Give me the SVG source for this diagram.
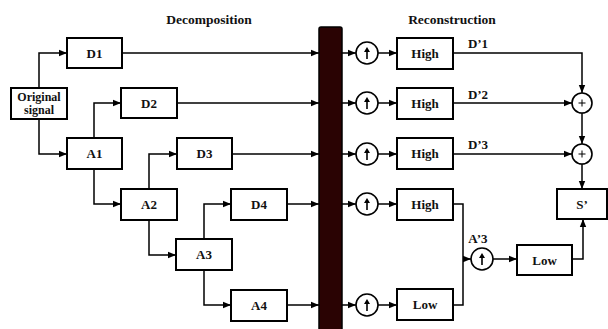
<svg xmlns="http://www.w3.org/2000/svg" width="608" height="329" viewBox="0 0 608 329">
<defs>
<marker id="ah" markerUnits="userSpaceOnUse" markerWidth="8" markerHeight="8" viewBox="0 0 8 8" refX="8" refY="4" orient="auto">
<path d="M0,0.8 L8,4 L0,7.2 Z" fill="#000"/>
</marker>
<g id="upa"><path d="M0,6 V-2" stroke="#000" stroke-width="1.6" fill="none"/><path d="M0,-6 L3,-1 L-3,-1 Z" fill="#000"/></g>
<g id="plus"><path d="M-3.5,0 H3.5 M0,-3.5 V3.5" stroke="#000" stroke-width="1"/></g>
</defs>
<style>
.box{fill:#fff;stroke:#000;stroke-width:2}
.c{fill:#fff;stroke:#000;stroke-width:1.6}
.t{font-family:"Liberation Serif","Times New Roman",serif;font-weight:bold;font-size:13px;text-anchor:middle;fill:#111}
.h{font-size:13.5px}
.s{font-size:12px}
.ln{fill:none;stroke:#000;stroke-width:1.5}
.ar{marker-end:url(#ah)}
</style>
<rect width="608" height="329" fill="#fff"/>
<text class="t h" x="209" y="24">Decomposition</text>
<text class="t h" x="452" y="24">Reconstruction</text>

<g id="bar"><rect x="319" y="27" width="23" height="310" rx="2" fill="#2a0303" stroke="#000" stroke-width="1.5"/></g>

<g id="connectors">
<path class="ln ar" d="M39,88 V53 H67"/>
<path class="ln ar" d="M39,119 V154 H67"/>
<path class="ln ar" d="M122,53 H319"/>
<path class="ln ar" d="M94,138 V103 H121"/>
<path class="ln ar" d="M177,103 H319"/>
<path class="ln ar" d="M94,169 V204 H121"/>
<path class="ln ar" d="M149,189 V154 H177"/>
<path class="ln ar" d="M232,154 H319"/>
<path class="ln ar" d="M149,220 V255 H176"/>
<path class="ln ar" d="M204,239 V204 H231"/>
<path class="ln ar" d="M287,204 H319"/>
<path class="ln ar" d="M204,270 V305 H231"/>
<path class="ln ar" d="M287,305 H319"/>
<path class="ln ar" d="M342,53 H356"/>
<path class="ln ar" d="M378,53 H397"/>
<path class="ln ar" d="M342,103 H356"/>
<path class="ln ar" d="M378,103 H397"/>
<path class="ln ar" d="M342,154 H356"/>
<path class="ln ar" d="M378,154 H397"/>
<path class="ln ar" d="M342,204 H356"/>
<path class="ln ar" d="M378,204 H397"/>
<path class="ln ar" d="M342,305 H356"/>
<path class="ln ar" d="M378,305 H397"/>
<path class="ln ar" d="M453,53 H582 V93"/>
<path class="ln ar" d="M453,103 H572"/>
<path class="ln ar" d="M582,113 V144"/>
<path class="ln ar" d="M453,154 H572"/>
<path class="ln ar" d="M582,164 V189"/>
<path class="ln" d="M453,204 H463 V305 H453"/>
<path class="ln ar" d="M463,259 H471"/>
<path class="ln ar" d="M493,259 H517"/>
<path class="ln ar" d="M572,259 H583 V219"/>
</g>

<g id="original"><rect class="box" x="11" y="88" width="56" height="31"/><text class="t s" x="39" y="101">Original</text><text class="t s" x="39" y="114">signal</text></g>
<g id="D1"><rect class="box" x="67" y="38" width="55" height="30"/><text class="t" x="94.5" y="57.5">D1</text></g>
<g id="A1"><rect class="box" x="67" y="138" width="55" height="31"/><text class="t" x="94.5" y="158">A1</text></g>
<g id="D2"><rect class="box" x="121" y="88" width="56" height="30"/><text class="t" x="149" y="107.5">D2</text></g>
<g id="A2"><rect class="box" x="121" y="189" width="56" height="31"/><text class="t" x="149" y="209">A2</text></g>
<g id="D3"><rect class="box" x="177" y="138" width="55" height="31"/><text class="t" x="204.5" y="158">D3</text></g>
<g id="A3"><rect class="box" x="176" y="239" width="56" height="31"/><text class="t" x="204" y="259">A3</text></g>
<g id="D4"><rect class="box" x="231" y="189" width="56" height="31"/><text class="t" x="259" y="209">D4</text></g>
<g id="A4"><rect class="box" x="231" y="290" width="56" height="31"/><text class="t" x="259" y="310">A4</text></g>

<g id="up1"><circle class="c" cx="367" cy="53" r="11"/><use href="#upa" x="367" y="53"/></g>
<g id="up2"><circle class="c" cx="367" cy="103" r="11"/><use href="#upa" x="367" y="103"/></g>
<g id="up3"><circle class="c" cx="367" cy="154" r="11"/><use href="#upa" x="367" y="154"/></g>
<g id="up4"><circle class="c" cx="367" cy="204" r="11"/><use href="#upa" x="367" y="204"/></g>
<g id="up5"><circle class="c" cx="367" cy="305" r="11"/><use href="#upa" x="367" y="305"/></g>
<g id="up6"><circle class="c" cx="482" cy="259" r="11"/><use href="#upa" x="482" y="259"/></g>

<g id="H1"><rect class="box" x="397" y="38" width="56" height="31"/><text class="t" x="425" y="58">High</text></g>
<g id="H2"><rect class="box" x="397" y="88" width="56" height="31"/><text class="t" x="425" y="108">High</text></g>
<g id="H3"><rect class="box" x="397" y="138" width="56" height="31"/><text class="t" x="425" y="158">High</text></g>
<g id="H4"><rect class="box" x="397" y="189" width="56" height="31"/><text class="t" x="425" y="209">High</text></g>
<g id="L1"><rect class="box" x="397" y="289" width="56" height="31"/><text class="t" x="425" y="309">Low</text></g>
<g id="L2"><rect class="box" x="517" y="245" width="55" height="30"/><text class="t" x="544.5" y="264.5">Low</text></g>

<g id="plus1"><circle class="c" cx="582" cy="103" r="10"/><use href="#plus" x="582" y="103"/></g>
<g id="plus2"><circle class="c" cx="582" cy="154" r="10"/><use href="#plus" x="582" y="154"/></g>
<g id="S"><rect class="box" x="557" y="189" width="50" height="30"/><text class="t" x="582" y="208.5">S’</text></g>

<g id="labels">
<text class="t" x="478" y="48">D’1</text>
<text class="t" x="478" y="99">D’2</text>
<text class="t" x="478" y="149">D’3</text>
<text class="t" x="478" y="243">A’3</text>
</g>
</svg>
